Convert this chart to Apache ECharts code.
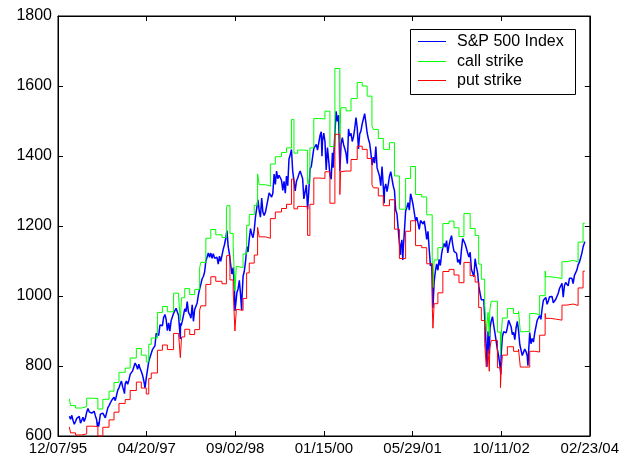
<!DOCTYPE html>
<html>
<head>
<meta charset="utf-8">
<script src="https://cdn.jsdelivr.net/npm/echarts@6/dist/echarts.min.js"></script>
<style>
  html, body { margin: 0; padding: 0; background: #fff; }
  #chart { width: 622px; height: 458px; }
</style>
</head>
<body>
<div id="chart"></div>
<script>
// Date axis: days counted from the first tick date, one tick every 500 days
const axisOrigin = '1995-12-07';
const tickStepDays = 500;
const xTickLabels = ['12/07/95', '04/20/97', '09/02/98', '01/15/00', '05/29/01', '10/11/02', '02/23/04'];
const yTicks = [600, 800, 1000, 1200, 1400, 1600, 1800];

// S&P 500 index, weekly (Friday) closes starting on this date
const spxWeeklyStart = '1996-02-09';
const spx1996 = [656.4, 648.0, 659.1, 644.4, 633.5, 641.4, 650.6, 645.5, 655.9, 636.7, 645.1, 653.5, 641.6, 652.1, 668.3, 678.5, 669.1, 673.3, 665.2, 666.8, 670.6, 657.4, 646.2, 638.7, 635.9, 662.5, 662.1, 665.2, 667.0, 651.9, 655.7, 680.5, 687.0, 686.2, 701.5, 705.0, 710.8, 700.9, 703.8, 730.8, 737.6, 748.7, 757.0, 739.6, 728.6, 748.9, 756.8];
const spx1997 = [748.0, 759.5, 776.2, 770.5, 786.2, 789.6, 808.5, 801.8, 790.8, 805.0, 793.2, 784.1, 773.9, 757.9, 737.7, 766.3, 765.4, 813.0, 824.8, 829.8, 847.0, 848.3, 858.0, 893.3, 898.7, 887.3, 916.9, 916.7, 915.3, 938.8, 947.1, 933.5, 900.8, 923.5, 899.5, 929.1, 923.9, 950.5, 945.2, 965.0, 967.0, 944.2, 941.6, 914.6, 927.5, 928.4, 963.1, 955.4, 983.8, 953.4, 946.8, 936.5];
const spx1998 = [975.0, 927.7, 961.5, 957.6, 980.3, 1003.5, 1020.1, 1034.2, 1049.3, 1055.7, 1068.6, 1099.2, 1095.4, 1122.7, 1110.7, 1122.7, 1107.9, 1121.0, 1108.1, 1108.7, 1110.5, 1090.8, 1113.9, 1098.8, 1100.7, 1133.2, 1146.4, 1164.3, 1186.8, 1140.8, 1120.7, 1089.5, 1062.8, 1081.2, 1027.1, 973.9, 1009.1, 1020.1, 1044.8, 1002.6, 984.4, 1056.4, 1070.7, 1098.7, 1141.0, 1125.7, 1163.6, 1192.3, 1176.7, 1166.5, 1188.0, 1226.3];
const spx1999 = [1229.2, 1275.1, 1243.3, 1225.2, 1279.6, 1239.4, 1230.1, 1239.2, 1238.3, 1275.5, 1294.6, 1299.3, 1282.8, 1293.7, 1348.4, 1319.0, 1356.9, 1335.2, 1345.0, 1337.8, 1330.3, 1301.8, 1327.8, 1293.6, 1342.8, 1315.3, 1391.2, 1403.3, 1418.8, 1356.9, 1328.7, 1300.3, 1327.7, 1336.6, 1348.3, 1357.2, 1351.7, 1335.4, 1277.4, 1282.8, 1317.6, 1247.4, 1301.7, 1362.9, 1370.2, 1396.1, 1422.0, 1416.6, 1433.3, 1417.0, 1421.0, 1458.3, 1469.3];
const spx2000 = [1441.5, 1465.2, 1441.4, 1360.2, 1424.4, 1387.1, 1346.1, 1333.4, 1409.2, 1395.1, 1464.5, 1527.5, 1498.6, 1516.4, 1356.6, 1434.5, 1452.4, 1432.2, 1420.9, 1407.0, 1378.0, 1477.3, 1457.0, 1464.5, 1441.5, 1454.6, 1478.9, 1510.0, 1480.2, 1419.9, 1462.9, 1471.8, 1491.7, 1506.5, 1520.8, 1494.5, 1465.8, 1448.7, 1436.5, 1409.0, 1374.2, 1396.9, 1379.6, 1426.7, 1366.0, 1367.7, 1341.8, 1315.2, 1369.9, 1312.2, 1306.0, 1320.3];
const spx2001 = [1298.4, 1318.3, 1342.5, 1355.0, 1349.5, 1314.8, 1301.5, 1245.9, 1234.2, 1233.4, 1150.5, 1139.8, 1160.3, 1128.4, 1183.5, 1243.0, 1253.1, 1266.6, 1245.7, 1292.0, 1277.9, 1260.7, 1265.0, 1214.4, 1225.4, 1224.4, 1190.6, 1215.7, 1210.9, 1205.8, 1214.4, 1190.2, 1162.0, 1184.9, 1133.6, 1085.8, 1092.5, 965.8, 1040.9, 1071.4, 1091.7, 1073.5, 1104.6, 1087.2, 1120.3, 1138.7, 1150.3, 1139.5, 1158.3, 1123.1, 1144.9, 1161.0];
const spx2002 = [1172.5, 1145.6, 1127.6, 1133.3, 1122.2, 1096.2, 1104.2, 1089.8, 1131.8, 1164.3, 1166.2, 1148.7, 1147.4, 1122.7, 1111.0, 1125.2, 1076.3, 1073.4, 1055.0, 1106.6, 1083.8, 1067.1, 1027.5, 1007.3, 989.1, 989.8, 989.0, 921.4, 847.8, 852.8, 864.2, 908.6, 928.8, 940.9, 916.1, 893.9, 889.8, 846.0, 827.4, 800.6, 835.3, 884.4, 897.7, 901.0, 894.7, 909.8, 930.6, 936.3, 912.2, 889.5, 895.8, 875.4];
const spx2003 = [908.6, 927.6, 901.8, 861.4, 855.7, 829.7, 834.9, 848.2, 841.2, 828.9, 833.3, 895.8, 863.5, 878.9, 868.3, 893.6, 898.8, 930.1, 933.4, 944.3, 933.2, 963.6, 987.8, 988.6, 995.7, 976.2, 985.7, 998.1, 993.3, 998.7, 980.2, 977.6, 990.7, 993.1, 1008.0, 1021.4, 1018.6, 1036.3, 996.9, 1029.9, 1038.7, 1039.3, 1028.9, 1050.7, 1053.2, 1050.4, 1035.3, 1058.2, 1061.5, 1074.1, 1088.7, 1095.9];
const spx2004 = [1108.5, 1121.9, 1139.8, 1141.6];

// Individual daily closes between the weekly points (sharp moves)
const spxDailyDates = ['1996-07-16', '1996-07-23', '1996-12-16', '1997-10-27', '1997-10-28', '1998-08-31', '1998-10-08', '2000-01-04', '2000-03-07', '2000-12-20', '2001-03-22', '2001-04-04', '2001-09-17', '2002-07-23', '2002-07-29', '2002-08-05', '2002-10-09', '2003-03-11', '2004-01-26'];
const spxDailyValues = [628.4, 626.9, 721.0, 877.0, 921.9, 957.3, 959.4, 1399.4, 1366.7, 1264.7, 1117.6, 1103.3, 1038.8, 797.7, 899.0, 834.6, 776.8, 800.7, 1155.4];

// Collar strikes: each value holds from its date until the next date
const strikeDates = [
  '1996-02-09', '1996-02-16', '1996-03-15', '1996-04-19', '1996-05-17', '1996-06-21', '1996-07-19', '1996-08-16', '1996-09-20', '1996-10-18', '1996-11-15', '1996-12-20',
  '1997-01-17', '1997-02-21', '1997-03-21', '1997-04-18', '1997-05-02', '1997-05-16', '1997-06-20', '1997-07-18', '1997-08-15', '1997-09-19', '1997-10-17', '1997-10-27', '1997-11-03', '1997-11-21', '1997-12-19',
  '1998-01-16', '1998-02-13', '1998-02-20', '1998-03-20', '1998-04-17', '1998-05-15', '1998-06-19', '1998-07-14', '1998-07-17', '1998-08-03', '1998-08-21', '1998-08-31', '1998-09-08', '1998-09-18', '1998-10-16', '1998-11-05', '1998-11-20', '1998-12-18',
  '1999-01-06', '1999-01-15', '1999-02-19', '1999-03-19', '1999-04-16', '1999-05-21', '1999-06-18', '1999-07-16', '1999-07-30', '1999-08-20', '1999-09-17', '1999-10-15', '1999-10-28', '1999-11-19', '1999-12-17',
  '2000-01-21', '2000-02-18', '2000-03-17', '2000-04-14', '2000-04-18', '2000-04-20', '2000-05-19', '2000-06-16', '2000-07-21', '2000-08-18', '2000-09-15', '2000-10-12', '2000-10-20', '2000-11-17', '2000-12-15',
  '2001-01-19', '2001-02-16', '2001-03-16', '2001-04-20', '2001-05-18', '2001-06-15', '2001-07-20', '2001-08-17', '2001-09-17', '2001-09-21', '2001-09-28', '2001-10-19', '2001-11-16', '2001-12-21',
  '2002-01-18', '2002-02-15', '2002-03-15', '2002-04-19', '2002-05-17', '2002-06-06', '2002-06-21', '2002-07-10', '2002-07-19', '2002-07-29', '2002-08-05', '2002-08-08', '2002-08-16', '2002-09-20', '2002-10-07', '2002-10-11', '2002-10-18', '2002-11-15', '2002-12-20',
  '2003-01-17', '2003-01-27', '2003-02-21', '2003-03-21', '2003-04-17', '2003-05-16', '2003-06-16', '2003-06-20', '2003-07-18', '2003-08-15', '2003-09-19', '2003-10-17', '2003-11-21', '2003-12-19',
  '2004-01-16', '2004-01-26'
];
const callStrike = [
  706, 687, 680, 684, 708, 707, 677, 705, 728, 753, 782, 794,
  823, 850, 831, 812, 862, 880, 953, 970, 955, 1008, 1001, 930, 995, 1021, 1004,
  1019, 1081, 1096, 1165, 1190, 1175, 1167, 1248, 1258, 1179, 1146, 1015, 1085, 1081, 1120, 1202, 1233, 1259,
  1349, 1318, 1314, 1377, 1398, 1410, 1423, 1504, 1408, 1417, 1416, 1322, 1423, 1507, 1506,
  1528, 1427, 1650, 1438, 1528, 1538, 1529, 1564, 1610, 1600, 1571, 1486, 1476, 1450, 1419,
  1438, 1343, 1248, 1336, 1370, 1290, 1283, 1232, 1101, 1024, 1103, 1138, 1207, 1214,
  1195, 1170, 1236, 1193, 1173, 1091, 1048, 976, 899, 953, 885, 960, 985, 897, 832, 885, 937, 964, 950,
  956, 898, 899, 950, 947, 1001, 1071, 1055, 1053, 1050, 1098, 1102, 1097, 1154,
  1208, 1208
];
const putStrike = [
  626, 609, 603, 606, 628, 627, 600, 625, 646, 668, 693, 704,
  730, 754, 737, 720, 764, 780, 845, 860, 847, 893, 888, 824, 883, 905, 890,
  904, 959, 972, 1033, 1055, 1042, 1035, 1107, 1116, 1046, 1016, 900, 962, 959, 993, 1066, 1094, 1117,
  1196, 1169, 1165, 1221, 1240, 1250, 1262, 1334, 1249, 1256, 1255, 1173, 1262, 1337, 1336,
  1355, 1265, 1462, 1290, 1355, 1357, 1357, 1390, 1428, 1419, 1393, 1318, 1309, 1286, 1258,
  1275, 1191, 1107, 1185, 1215, 1144, 1138, 1092, 976, 908, 978, 1009, 1070, 1076,
  1060, 1038, 1096, 1058, 1040, 967, 930, 865, 797, 845, 785, 851, 873, 795, 738, 785, 831, 855, 842,
  848, 797, 797, 842, 840, 888, 950, 936, 934, 931, 974, 977, 973, 1023,
  1071, 1071
];

// Series names and colours, also used for the key
const seriesNames = ['S&P 500 Index', 'call strike', 'put strike'];
const seriesColors = ['#0000ff', '#00ff00', '#ff0000'];

const DAY_MS = 86400000;
function toUTC(s) {
  const p = s.split('-').map(Number);
  return Date.UTC(p[0], p[1] - 1, p[2]);
}
const originMs = toUTC(axisOrigin);
const dayOf = s => (toUTC(s) - originMs) / DAY_MS;

// Index series: weekly closes plus the extra daily closes, in date order
const weekly = [].concat(spx1996, spx1997, spx1998, spx1999, spx2000, spx2001, spx2002, spx2003, spx2004);
const startDay = dayOf(spxWeeklyStart);
let spxPoints = weekly.map((v, i) => [startDay + 7 * i, v]);
spxPoints = spxPoints.concat(spxDailyDates.map((d, i) => [dayOf(d), spxDailyValues[i]]));
spxPoints.sort((a, b) => a[0] - b[0]);

const callPoints = strikeDates.map((d, i) => [dayOf(d), callStrike[i]]);
const putPoints = strikeDates.map((d, i) => [dayOf(d), putStrike[i]]);

const FONT = '"Liberation Sans", Arial, Helvetica, sans-serif';
const axisMax = tickStepDays * (xTickLabels.length - 1);

const chart = echarts.init(document.getElementById('chart'), null, { renderer: 'canvas' });

const baseX = {
  type: 'value', min: 0, max: axisMax, interval: tickStepDays,
  axisLine: { show: true, onZero: false, lineStyle: { color: '#000', width: 1 } },
  axisTick: { show: true, inside: true, length: 5, lineStyle: { color: '#000', width: 1 } },
  splitLine: { show: false }
};
const baseY = {
  type: 'value', min: yTicks[0], max: yTicks[yTicks.length - 1], interval: yTicks[1] - yTicks[0],
  axisLine: { show: true, onZero: false, lineStyle: { color: '#000', width: 1 } },
  axisTick: { show: true, inside: true, length: 5, lineStyle: { color: '#000', width: 1 } },
  splitLine: { show: false }
};

// Boxed key in the upper right corner: a short coloured line and the series name per row
const keyBox = { x: 410, y: 29, width: 166, height: 65 };
const keyRowY = [41.5, 61.5, 80.5];
const keyElements = [{
  type: 'rect', z: 100,
  shape: { x: keyBox.x + 0.5, y: keyBox.y + 0.5, width: keyBox.width - 1, height: keyBox.height },
  style: { fill: '#fff', stroke: '#000', lineWidth: 1 }
}];
seriesNames.forEach((name, i) => {
  keyElements.push({
    type: 'line', z: 101,
    shape: { x1: keyBox.x + 8, y1: keyRowY[i], x2: keyBox.x + 36, y2: keyRowY[i] },
    style: { stroke: seriesColors[i], lineWidth: 1 }
  });
  keyElements.push({
    type: 'text', z: 101, x: keyBox.x + 47, y: keyRowY[i],
    style: { text: name, fill: '#000', font: '16px ' + FONT, textVerticalAlign: 'middle', verticalAlign: 'middle' }
  });
});

chart.setOption({
  animation: false,
  backgroundColor: '#fff',
  grid: { left: 58, right: 32, top: 16, bottom: 22, containLabel: false,
          show: true, borderColor: '#000', borderWidth: 1, backgroundColor: '#fff' },
  graphic: keyElements,
  xAxis: [
    Object.assign({}, baseX, {
      position: 'bottom',
      axisLabel: { show: true, margin: 5, fontFamily: FONT, fontSize: 15, color: '#000',
                   showMinLabel: true, showMaxLabel: true, hideOverlap: false,
                   formatter: v => xTickLabels[Math.round(v / tickStepDays)] }
    }),
    Object.assign({}, baseX, { position: 'top', axisLabel: { show: false } })
  ],
  yAxis: [
    Object.assign({}, baseY, {
      position: 'left',
      axisLabel: { show: true, margin: 6, fontFamily: FONT, fontSize: 16, color: '#000',
                   showMinLabel: true, showMaxLabel: true,
                   formatter: v => String(v) }
    }),
    Object.assign({}, baseY, { position: 'right', axisLabel: { show: false } })
  ],
  series: [
    { name: seriesNames[0], type: 'line', data: spxPoints, showSymbol: false, symbol: 'none',
      color: seriesColors[0], lineStyle: { color: seriesColors[0], width: 1.5 } },
    { name: seriesNames[1], type: 'line', step: 'end', data: callPoints, showSymbol: false, symbol: 'none',
      color: seriesColors[1], lineStyle: { color: seriesColors[1], width: 1 } },
    { name: seriesNames[2], type: 'line', step: 'end', data: putPoints, showSymbol: false, symbol: 'none',
      color: seriesColors[2], lineStyle: { color: seriesColors[2], width: 1 } }
  ]
});
</script>
</body>
</html>
